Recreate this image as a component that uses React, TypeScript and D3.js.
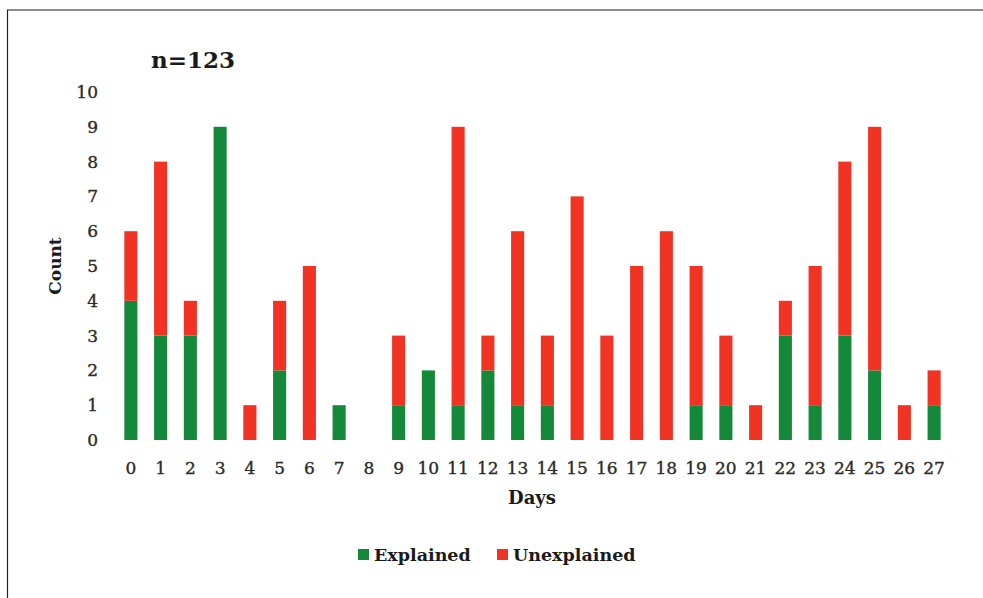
import React from "react";
import * as d3 from "d3";

const days = Array.from({ length: 28 }, (_, i) => String(i));
const explained = [4, 3, 3, 9, 0, 2, 0, 1, 0, 1, 2, 1, 2, 1, 1, 0, 0, 0, 0, 1, 1, 0, 3, 1, 3, 2, 0, 1];
const unexplained = [2, 5, 1, 0, 1, 2, 5, 0, 0, 2, 0, 8, 1, 5, 2, 7, 3, 5, 6, 4, 2, 1, 1, 4, 5, 7, 1, 1];
const yTicks = [0, 1, 2, 3, 4, 5, 6, 7, 8, 9, 10];
const seriesNames = ["Explained", "Unexplained"];
const colors = ["#15893a", "#f03323"];

const W = 983;
const H = 598;
const FONT = "'DejaVu Serif', 'Liberation Serif', serif";

export default function App() {
  const x = d3
    .scaleBand<string>()
    .domain(days)
    .range([116, 949])
    .paddingInner(0.56)
    .paddingOuter(0.28);
  const y = d3.scaleLinear().domain([0, 10]).range([440, 92]);
  const rows = days.map((d, i) => ({ day: d, Explained: explained[i], Unexplained: unexplained[i] }));
  const stack = d3.stack<any>().keys(seriesNames)(rows);

  return (
    <svg width={W} height={H} style={{ position: "absolute", left: 0, top: 0, background: "#fff" }}>
      <line x1={7} y1={10} x2={W} y2={10} stroke="#666" strokeWidth={1.5} />
      <line x1={7.5} y1={10} x2={7.5} y2={H} stroke="#222" strokeWidth={1.2} />
      <text x={151} y={68} fontFamily={FONT} fontWeight="bold" fontSize={23} fill="#1a1a1a">
        n=123
      </text>
      {yTicks.map((t) => (
        <text key={t} x={98} y={y(t) + 6} textAnchor="end" fontFamily={FONT} fontSize={17} fill="#2a2a2a" stroke="#2a2a2a" strokeWidth={0.35}>
          {t}
        </text>
      ))}
      {stack.map((s, si) =>
        s.map((d, i) =>
          d[1] - d[0] > 0 ? (
            <rect
              key={si + "-" + i}
              x={x(days[i])!}
              y={y(d[1])}
              width={x.bandwidth()}
              height={y(d[0]) - y(d[1])}
              fill={colors[si]}
            />
          ) : null
        )
      )}
      {days.map((d) => (
        <text key={d} x={x(d)! + x.bandwidth() / 2} y={474} textAnchor="middle" fontFamily={FONT} fontSize={17} fill="#2a2a2a" stroke="#2a2a2a" strokeWidth={0.35}>
          {d}
        </text>
      ))}
      <text x={532} y={504} textAnchor="middle" fontFamily={FONT} fontWeight="bold" fontSize={18} fill="#1a1a1a">
        Days
      </text>
      <text
        transform={`translate(61,266) rotate(-90)`}
        textAnchor="middle"
        fontFamily={FONT}
        fontWeight="bold"
        fontSize={17}
        fill="#1a1a1a"
      >
        Count
      </text>
      <rect x={358} y={549} width={11} height={11} fill={colors[0]} />
      <text x={374} y={561} fontFamily={FONT} fontWeight="bold" fontSize={17.5} fill="#1a1a1a">
        {seriesNames[0]}
      </text>
      <rect x={497} y={549} width={11} height={11} fill={colors[1]} />
      <text x={513} y={561} fontFamily={FONT} fontWeight="bold" fontSize={17.5} fill="#1a1a1a">
        {seriesNames[1]}
      </text>
    </svg>
  );
}
